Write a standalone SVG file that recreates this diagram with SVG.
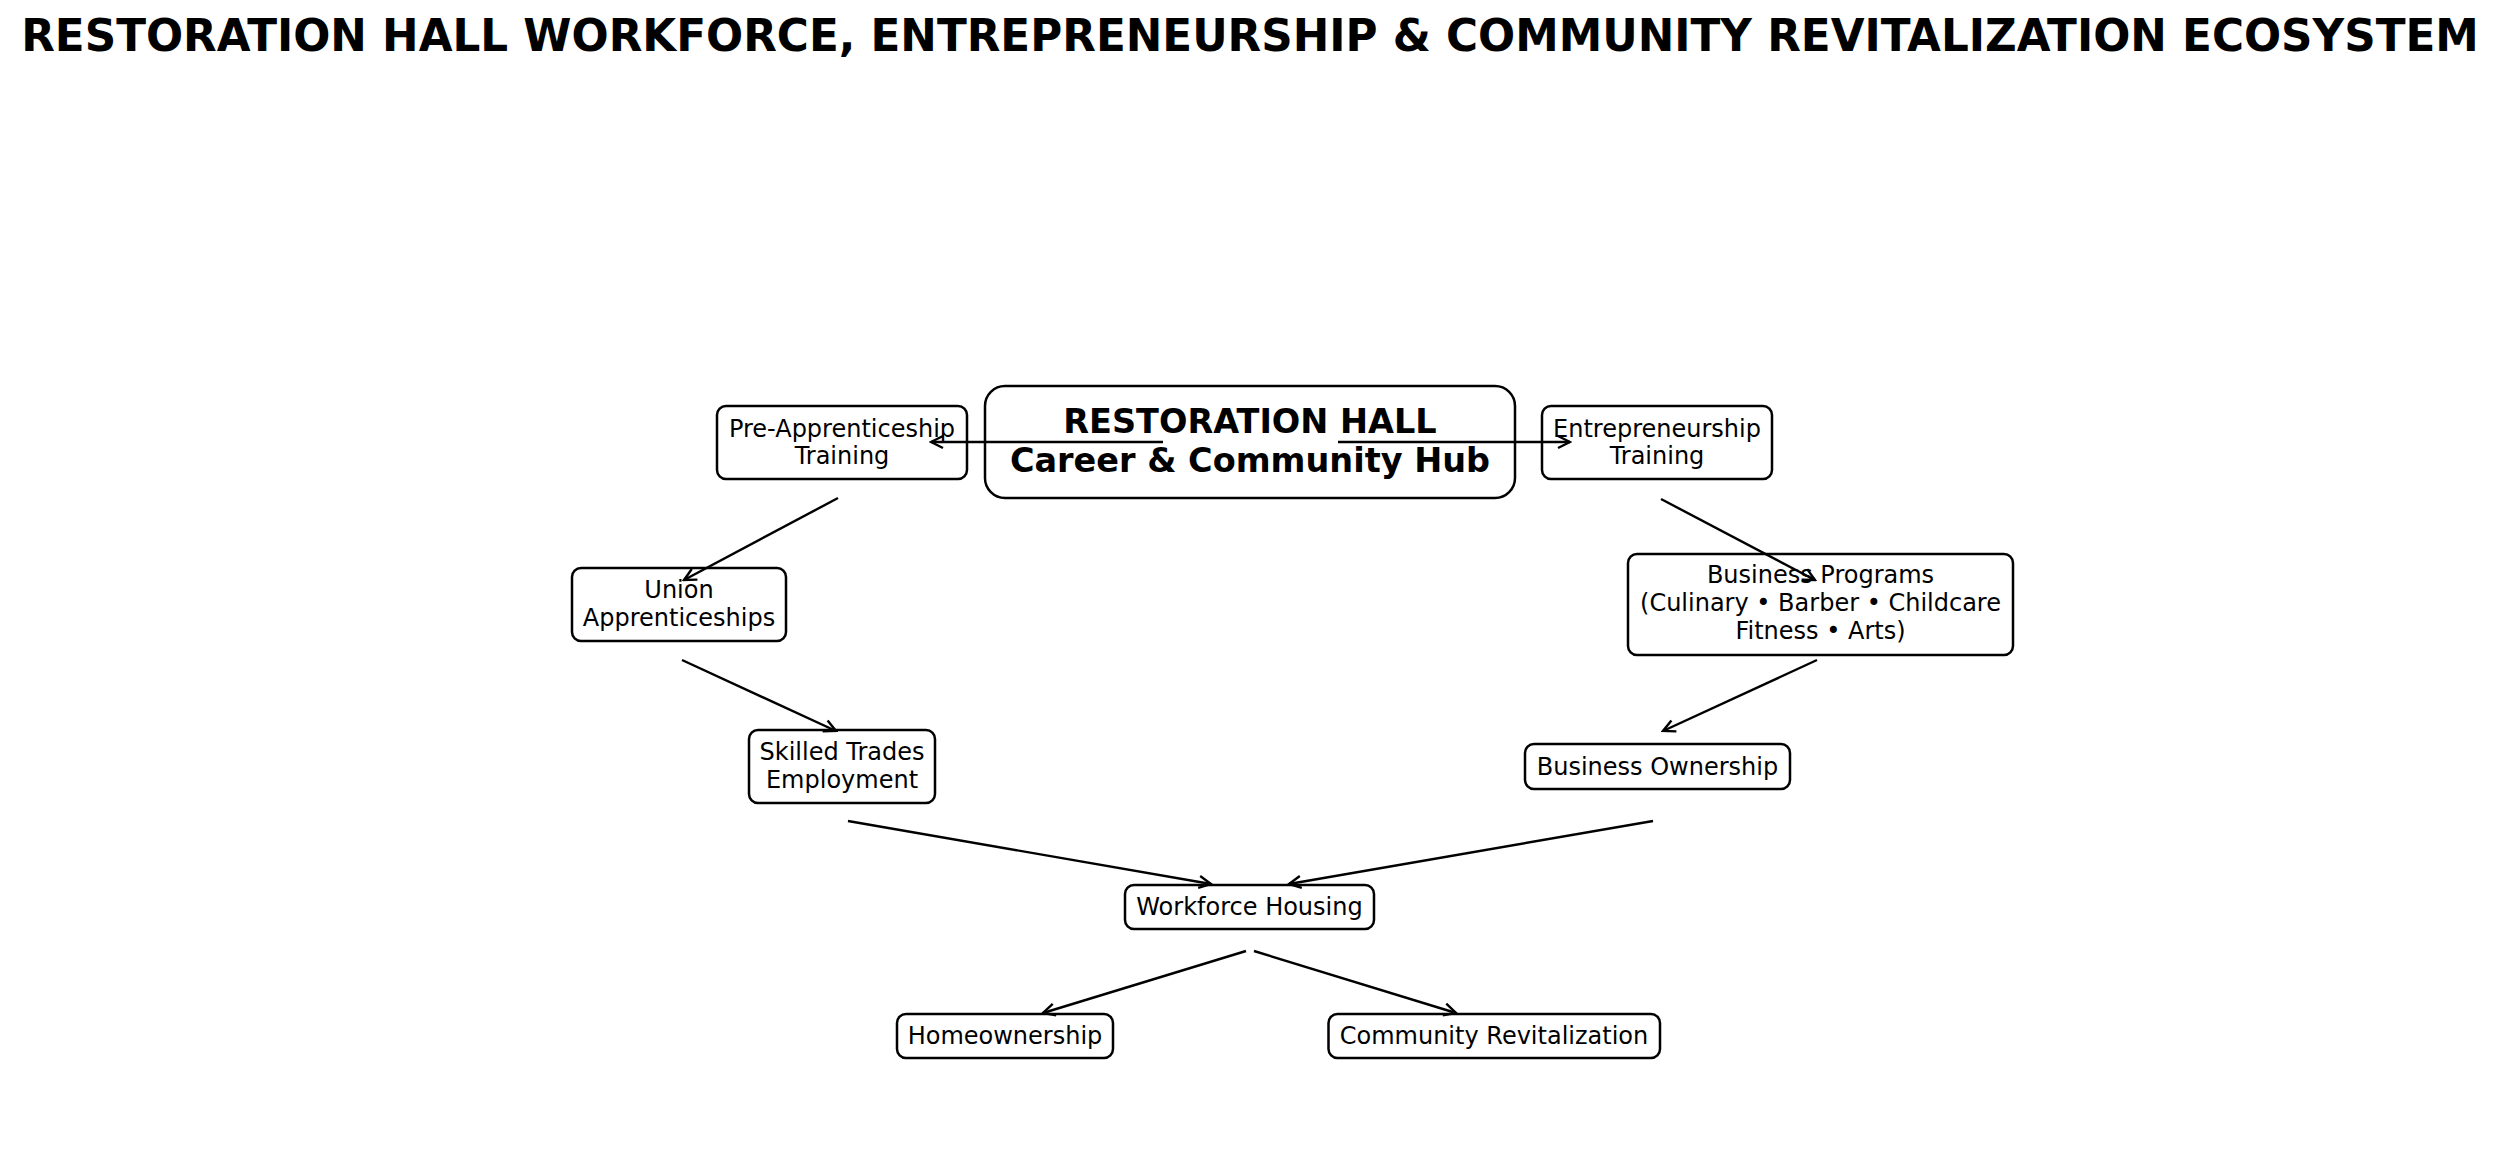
<svg xmlns="http://www.w3.org/2000/svg" width="2500" height="1162" viewBox="0 0 2500 1162">
<style>
  .bg { fill: #ffffff; }
  .box { fill: #ffffff; stroke: #000000; stroke-width: 2.5; }
  .t { font-family: "DejaVu Sans", "Liberation Sans", sans-serif; font-size: 24px; fill: #000000; text-anchor: middle; }
  .hub { font-family: "DejaVu Sans", "Liberation Sans", sans-serif; font-size: 33.5px; font-weight: bold; fill: #000000; text-anchor: middle; }
  .title { font-family: "DejaVu Sans", "Liberation Sans", sans-serif; font-size: 43.7px; font-weight: bold; fill: #000000; text-anchor: middle; }
  .edge { fill: none; stroke: #000000; stroke-width: 2.4; marker-end: url(#arr); }
</style>
<defs>
  <marker id="arr" markerUnits="userSpaceOnUse" viewBox="0 0 16 16" markerWidth="16" markerHeight="16" refX="14" refY="8" orient="auto">
    <path d="M2,2 L14,8 L2,14" fill="none" stroke="#000000" stroke-width="2.4"/>
  </marker>
</defs>
<rect class="bg" x="0" y="0" width="2500" height="1162"/>
<text class="title" x="1250" y="51">RESTORATION HALL WORKFORCE, ENTREPRENEURSHIP &amp; COMMUNITY REVITALIZATION ECOSYSTEM</text>

<g id="nodes">
  <g id="hub">
    <rect class="box" x="985" y="386" width="530" height="112" rx="20"/>
    <text class="hub" x="1250" y="433">RESTORATION HALL</text>
    <text class="hub" x="1250" y="472">Career &amp; Community Hub</text>
  </g>
  <g id="pre_apprenticeship">
    <rect class="box" x="717" y="406" width="250" height="73" rx="9"/>
    <text class="t" x="842" y="437">Pre-Apprenticeship</text>
    <text class="t" x="842" y="464">Training</text>
  </g>
  <g id="entrepreneurship">
    <rect class="box" x="1542" y="406" width="230" height="73" rx="9"/>
    <text class="t" x="1657" y="437">Entrepreneurship</text>
    <text class="t" x="1657" y="464">Training</text>
  </g>
  <g id="union">
    <rect class="box" x="572" y="568" width="214" height="73" rx="9"/>
    <text class="t" x="679" y="598">Union</text>
    <text class="t" x="679" y="626">Apprenticeships</text>
  </g>
  <g id="business_programs">
    <rect class="box" x="1628" y="554" width="385" height="101" rx="9"/>
    <text class="t" x="1820.5" y="583">Business Programs</text>
    <text class="t" x="1820.5" y="611">(Culinary • Barber • Childcare</text>
    <text class="t" x="1820.5" y="639">Fitness • Arts)</text>
  </g>
  <g id="skilled_trades">
    <rect class="box" x="749" y="730" width="186" height="73" rx="9"/>
    <text class="t" x="842" y="760">Skilled Trades</text>
    <text class="t" x="842" y="788">Employment</text>
  </g>
  <g id="business_ownership">
    <rect class="box" x="1525" y="744" width="265" height="45" rx="9"/>
    <text class="t" x="1657.5" y="775">Business Ownership</text>
  </g>
  <g id="workforce_housing">
    <rect class="box" x="1125" y="885" width="249" height="44" rx="9"/>
    <text class="t" x="1249.5" y="915">Workforce Housing</text>
  </g>
  <g id="homeownership">
    <rect class="box" x="897" y="1014" width="216" height="44" rx="9"/>
    <text class="t" x="1005" y="1044">Homeownership</text>
  </g>
  <g id="community_revitalization">
    <rect class="box" x="1328.5" y="1014" width="331.5" height="44" rx="9"/>
    <text class="t" x="1494" y="1044">Community Revitalization</text>
  </g>
</g>

<g id="connectors">
  <line class="edge" x1="1163" y1="442" x2="931" y2="442"/>
  <line class="edge" x1="1338" y1="442" x2="1570" y2="442"/>
  <line class="edge" x1="838" y1="498" x2="684" y2="580"/>
  <line class="edge" x1="682" y1="660" x2="836" y2="731"/>
  <line class="edge" x1="1661" y1="499" x2="1815" y2="580"/>
  <line class="edge" x1="1817" y1="660" x2="1663" y2="731"/>
  <line class="edge" x1="848" y1="821" x2="1211" y2="884"/>
  <line class="edge" x1="1653" y1="821" x2="1289" y2="884"/>
  <line class="edge" x1="1246" y1="951" x2="1043" y2="1013"/>
  <line class="edge" x1="1254" y1="951" x2="1456" y2="1013"/>
</g>
</svg>
